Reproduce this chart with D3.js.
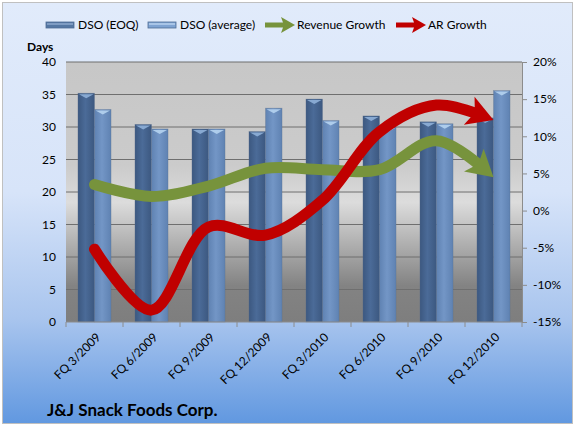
<!DOCTYPE html>
<html>
<head>
<meta charset="utf-8">
<script src="https://cdn.jsdelivr.net/npm/d3@7"></script>
<style>
  body { margin: 0; background: #fff; }
  text { font-family: Lato, "Liberation Sans", sans-serif; fill: #000; }
</style>
</head>
<body>
<svg id="chart" width="575" height="427"></svg>
<script>
let quarters = ["FQ 3/2009", "FQ 6/2009", "FQ 9/2009", "FQ 12/2009",
  "FQ 3/2010", "FQ 6/2010", "FQ 9/2010", "FQ 12/2010"];
let dso_eoq = [35.2, 30.4, 29.7, 29.3, 34.3, 31.7, 30.8, 31.4];
let dso_avg = [32.7, 29.7, 29.7, 32.9, 31.0, 30.0, 30.5, 35.6];
let rev_growth = [3.5, 1.9, 3.3, 5.7, 5.5, 5.5, 9.4, 4.5];
let ar_growth = [-5.2, -13.4, -2.2, -3.3, 1.4, 10.6, 14.2, 12.2];
let days_ticks = [0, 5, 10, 15, 20, 25, 30, 35, 40];
let pct_ticks = [-15, -10, -5, 0, 5, 10, 15, 20];

let margin = { top: 62, right: 53, bottom: 105, left: 66 },
  width = 575 - margin.left - margin.right,
  height = 427 - margin.top - margin.bottom;

let svg = d3.select("#chart");
let defs = svg.append("defs");

// background gradients
let bgGrad = defs.append("linearGradient").attr("id", "bg")
  .attr("x1", 0).attr("y1", 0).attr("x2", 0).attr("y2", 1);
bgGrad.append("stop").attr("offset", "0%").attr("stop-color", "#e1ebfb");
bgGrad.append("stop").attr("offset", "45%").attr("stop-color", "#d7e4f9");
bgGrad.append("stop").attr("offset", "75%").attr("stop-color", "#a9c5ee");
bgGrad.append("stop").attr("offset", "100%").attr("stop-color", "#6198e0");

let plotGrad = defs.append("linearGradient").attr("id", "plotbg")
  .attr("x1", 0).attr("y1", 0).attr("x2", 0).attr("y2", 1);
plotGrad.append("stop").attr("offset", "0%").attr("stop-color", "#c7c7c7");
plotGrad.append("stop").attr("offset", "40%").attr("stop-color", "#cbcbcb");
plotGrad.append("stop").attr("offset", "54%").attr("stop-color", "#dcdcdc");
plotGrad.append("stop").attr("offset", "86%").attr("stop-color", "#838383");
plotGrad.append("stop").attr("offset", "100%").attr("stop-color", "#7e7e7e");

function barGradient(id, edge, mid) {
  let g = defs.append("linearGradient").attr("id", id)
    .attr("x1", 0).attr("y1", 0).attr("x2", 1).attr("y2", 0);
  g.append("stop").attr("offset", "0%").attr("stop-color", edge);
  g.append("stop").attr("offset", "45%").attr("stop-color", mid);
  g.append("stop").attr("offset", "100%").attr("stop-color", edge);
}
barGradient("barDark", "#3c5880", "#4b6b98");
barGradient("barLight", "#5f82b2", "#7396c6");

svg.append("rect").attr("x", 2.5).attr("y", 2.5)
  .attr("width", 570).attr("height", 421)
  .attr("fill", "url(#bg)").attr("stroke", "#c0c0c0");

let g = svg.append("g")
  .attr("transform", "translate(" + margin.left + "," + margin.top + ")");

g.append("rect").attr("width", width).attr("height", height)
  .attr("fill", "url(#plotbg)");

let x = d3.scaleBand().domain(quarters).range([0, width]).paddingInner(0.42).paddingOuter(0.21);
let xs = d3.scaleBand().domain([0, 1]).range([0, x.bandwidth()]);
let y = d3.scaleLinear().domain([0, 40]).range([height, 0]);
let y2 = d3.scaleLinear().domain([-15, 20]).range([height, 0]);
let cx = (d) => x(d) + x.bandwidth() / 2;

// gridlines
g.append("g").selectAll("line").data(days_ticks.slice(1)).join("line")
  .attr("x1", 0).attr("x2", width)
  .attr("y1", (d) => y(d)).attr("y2", (d) => y(d))
  .attr("stroke", "#6f6f6f").attr("stroke-width", 1);

// bars
[[dso_eoq, "barDark", "#8fb0d8"], [dso_avg, "barLight", "#b5d3f0"]].forEach((s, si) => {
  let bw = xs.bandwidth();
  let bg = g.append("g");
  bg.selectAll("rect").data(s[0]).join("rect")
    .attr("x", (d, i) => x(quarters[i]) + xs(si))
    .attr("y", (d) => y(d))
    .attr("width", bw)
    .attr("height", (d) => height - y(d))
    .attr("fill", "url(#" + s[1] + ")")
    .attr("stroke", "#5a6f8c").attr("stroke-opacity", 0.5).attr("stroke-width", 0.6);
  // top cap
  bg.selectAll("path").data(s[0]).join("path")
    .attr("d", (d, i) => {
      let x0 = x(quarters[i]) + xs(si), yt = y(d);
      return "M" + (x0 + 1) + "," + (yt + 1) + "L" + (x0 + bw - 1) + "," + (yt + 1) +
        "L" + (x0 + bw / 2) + "," + (yt + 5) + "Z";
    })
    .attr("fill", s[2]).attr("opacity", 0.9);
});

// axes
let yAxis = g.append("g").call(d3.axisLeft(y).tickValues(days_ticks).tickSize(0).tickPadding(10));
yAxis.select(".domain").remove();
yAxis.selectAll("text").attr("font-size", "12px");

let y2Axis = g.append("g").attr("transform", "translate(" + width + ",0)")
  .call(d3.axisRight(y2).tickValues(pct_ticks).tickSize(5).tickPadding(6).tickFormat((d) => d + "%"));
y2Axis.select(".domain").attr("stroke", "#8c8c8c");
y2Axis.selectAll("line").attr("stroke", "#8c8c8c");
y2Axis.selectAll("text").attr("font-size", "12px");

let xAxis = g.append("g").attr("transform", "translate(0," + height + ")");
xAxis.append("line").attr("x1", 0).attr("x2", width).attr("stroke", "#8c8c8c");
xAxis.selectAll(".tk").data(d3.range(quarters.length + 1)).join("line")
  .attr("x1", (d) => d * x.step()).attr("x2", (d) => d * x.step())
  .attr("y1", 0).attr("y2", 5).attr("stroke", "#8c8c8c");
xAxis.selectAll("text").data(quarters).join("text")
  .attr("transform", (d) => "translate(" + (cx(d) + 1) + ",10) rotate(-45)")
  .attr("text-anchor", "end").attr("dy", "0.7em")
  .attr("font-size", "12px").text((d) => d);

// growth lines with arrow heads
function arrowLine(vals, color) {
  let line = d3.line().x((d, i) => cx(quarters[i])).y((d) => y2(d))
    .curve(d3.curveCatmullRom.alpha(0.5));
  let path = g.append("path").datum(vals)
    .attr("d", line).attr("fill", "none")
    .attr("stroke", color).attr("stroke-width", 11)
    .attr("stroke-linecap", "round");
  let len = path.node().getTotalLength();
  let headLen = 20;
  path.attr("stroke-dasharray", (len - headLen + 3) + "," + len);
  let tip = path.node().getPointAtLength(len);
  let back = path.node().getPointAtLength(len - headLen);
  let ang = Math.atan2(tip.y - back.y, tip.x - back.x);
  let hw = 15;
  let px = -Math.sin(ang), py = Math.cos(ang);
  let bx = tip.x - Math.cos(ang) * headLen, by = tip.y - Math.sin(ang) * headLen;
  let nx = tip.x - Math.cos(ang) * (headLen + 6), ny = tip.y - Math.sin(ang) * (headLen + 6);
  g.append("path")
    .attr("d", "M" + tip.x + "," + tip.y +
      "L" + (nx + px * hw) + "," + (ny + py * hw) +
      "L" + bx + "," + by +
      "L" + (nx - px * hw) + "," + (ny - py * hw) + "Z")
    .attr("fill", color);
}
arrowLine(rev_growth, "#77933c");
arrowLine(ar_growth, "#c00000");

// legend
let legend = svg.append("g").attr("transform", "translate(0,25)");
let legItems = [
  { name: "DSO (EOQ)", type: "barDark", x: 46 },
  { name: "DSO (average)", type: "barLight", x: 148 },
  { name: "Revenue Growth", type: "#77933c", x: 265 },
  { name: "AR Growth", type: "#c00000", x: 396 },
];
legItems.forEach((it) => {
  if (it.type.startsWith("bar")) {
    legend.append("rect").attr("x", it.x).attr("y", -3)
      .attr("width", 28).attr("height", 6)
      .attr("fill", it.type === "barDark" ? "#5577a3" : "#7fa3d2")
      .attr("stroke", "#4f6d95").attr("stroke-width", 0.8);
    legend.append("line").attr("x1", it.x + 1).attr("x2", it.x + 27)
      .attr("y1", -1).attr("y2", -1)
      .attr("stroke", it.type === "barDark" ? "#9bb6d9" : "#c5ddf5").attr("stroke-width", 1.2);
  } else {
    legend.append("path")
      .attr("d", "M" + it.x + ",-2.5L" + (it.x + 18) + ",-2.5L" + (it.x + 16) + ",-8L" +
        (it.x + 30) + ",0L" + (it.x + 16) + ",8L" + (it.x + 18) + ",2.5L" + it.x + ",2.5Z")
      .attr("fill", it.type);
  }
  legend.append("text").attr("x", it.x + 32).attr("y", 0).attr("dy", "0.35em")
    .attr("font-size", "12px").text(it.name);
});

svg.append("text").attr("x", 27).attr("y", 51)
  .attr("font-size", "12px").attr("font-weight", "bold").text("Days");

svg.append("text").attr("x", 47).attr("y", 416)
  .attr("font-size", "17px").attr("font-weight", "bold").text("J&J Snack Foods Corp.");
</script>
</body>
</html>
